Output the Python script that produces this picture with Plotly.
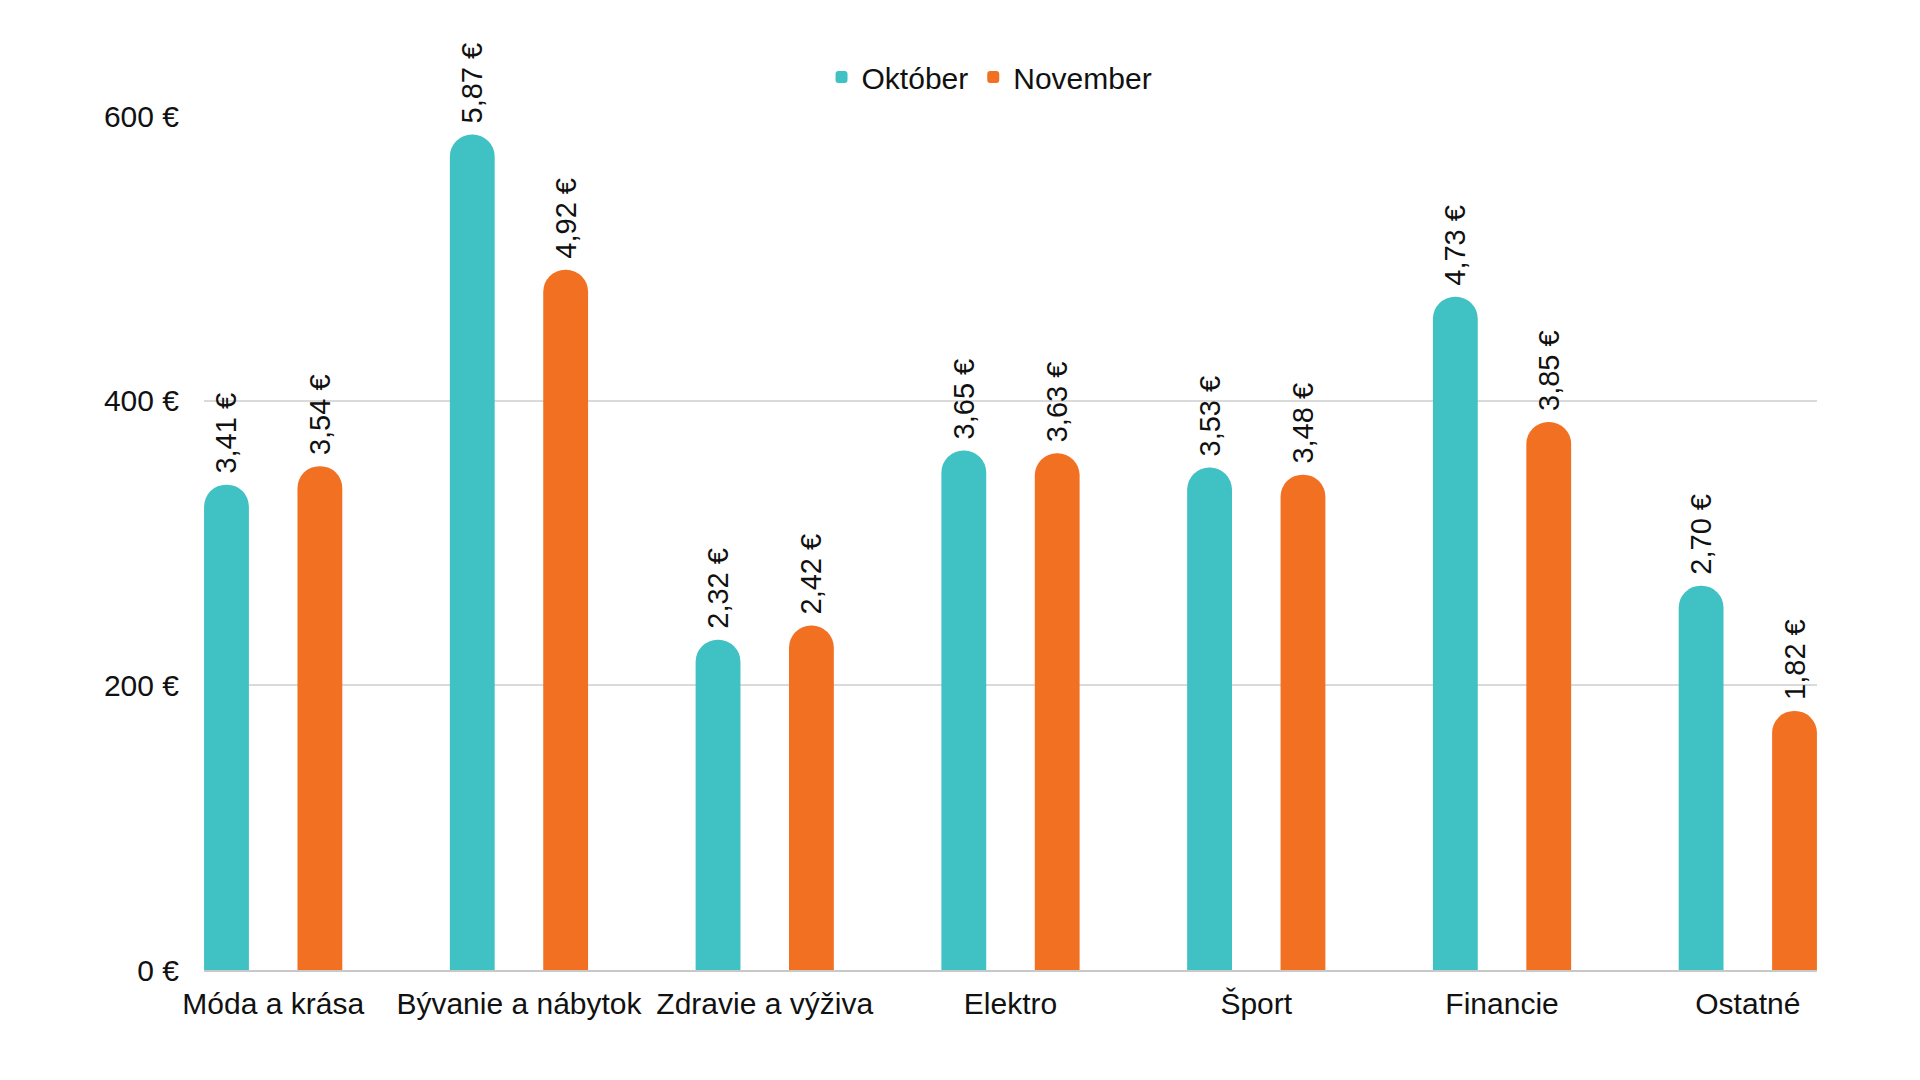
import plotly.graph_objects as go

categories = ["Móda a krása", "Bývanie a nábytok", "Zdravie a výživa", "Elektro", "Šport", "Financie", "Ostatné"]
oktober = [341, 587, 232, 365, 353, 473, 270]
november = [354, 492, 242, 363, 348, 385, 182]
series_names = ["Október", "November"]
y_ticks = [0, 200, 400, 600]
y_tick_labels = ["0 €", "200 €", "400 €", "600 €"]

TEAL = "#40C1C3"
ORANGE = "#F17022"
FONT = "Liberation Sans, Arial, sans-serif"


def fmt(v):
    return "\u00a0" + f"{v / 100:.2f}".replace(".", ",") + " €"


fig = go.Figure()
for name, vals, col in [(series_names[0], oktober, TEAL), (series_names[1], november, ORANGE)]:
    fig.add_trace(go.Bar(
        name=name,
        x=categories,
        y=vals,
        marker=dict(color=col, cornerradius="50%", line=dict(width=0)),
        text=[fmt(v) for v in vals],
        textposition="outside",
        textangle=-90,
        constraintext="none",
        textfont=dict(family=FONT, size=29, color="#111111"),
        cliponaxis=False,
    ))

fig.update_layout(
    width=1920,
    height=1080,
    barmode="group",
    bargap=0.24,
    bargroupgap=0.52,
    plot_bgcolor="white",
    paper_bgcolor="white",
    margin=dict(l=196, r=111, t=108, b=118),
    font=dict(family=FONT, size=30, color="#111111"),
    legend=dict(
        orientation="h",
        x=0.487,
        xanchor="center",
        y=1.0457,
        yanchor="middle",
        yref="paper",
        font=dict(size=30, color="#111111"),
        itemwidth=30,
        traceorder="normal",
        bgcolor="rgba(0,0,0,0)",
    ),
)

fig.update_xaxes(
    range=[-0.2815, 6.2815],
    showgrid=False,
    showline=True,
    linecolor="#c8c8c8",
    linewidth=2,
    ticks="",
    tickfont=dict(size=30, color="#111111"),
    ticklabelstandoff=6,
)
fig.update_yaxes(
    range=[0, 600],
    tickvals=y_ticks,
    ticktext=y_tick_labels,
    showgrid=True,
    gridcolor="#dadada",
    gridwidth=1.5,
    zeroline=False,
    showline=False,
    ticks="",
    tickfont=dict(size=30, color="#111111"),
    ticklabelstandoff=24,
)

fig.write_html("out.html")
